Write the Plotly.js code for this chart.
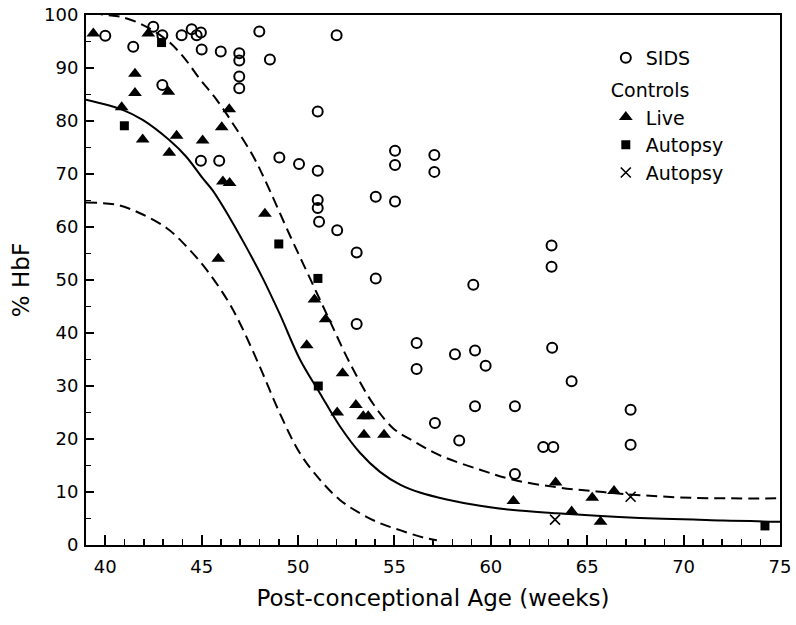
<!DOCTYPE html>
<html>
<head>
<meta charset="utf-8">
<script src="https://cdn.plot.ly/plotly-3.0.1.min.js"></script>
<style>html,body{margin:0;padding:0;background:#fff;}#chart{width:796px;height:625px;}</style>
</head>
<body>
<div id="chart"></div>
<script>
// SIDS (open circles)
const sidsX = [40.0, 41.45, 42.49, 42.96, 42.96, 43.96, 44.48, 44.74, 44.96, 45.0, 45.99, 46.95, 46.95, 46.95, 46.95, 47.99, 48.54, 52.0,
  44.96, 45.91, 49.03, 50.05, 51.02, 51.02, 51.02, 51.02, 51.09, 52.03, 53.04, 54.03, 54.03, 55.03, 55.03, 55.03, 53.04,
  57.07, 57.07, 63.15, 63.15, 59.09,
  56.15, 56.15, 58.14, 59.18, 59.73, 63.18, 64.19, 57.1, 58.36, 59.18, 61.25, 62.72, 63.24, 67.25, 67.25, 61.25];
const sidsY = [96.1, 94.0, 97.8, 96.2, 86.8, 96.2, 97.3, 96.2, 96.7, 93.5, 93.1, 92.8, 91.4, 88.4, 86.2, 96.9, 91.6, 96.2,
  72.5, 72.5, 73.1, 71.9, 70.6, 81.8, 65.1, 63.6, 61.0, 59.4, 55.2, 65.7, 50.3, 74.4, 71.7, 64.8, 41.7,
  73.6, 70.4, 56.5, 52.5, 49.1,
  38.1, 33.2, 36.0, 36.7, 33.8, 37.2, 30.9, 23.0, 19.7, 26.2, 26.2, 18.5, 18.5, 25.5, 18.9, 13.4];

// Controls - Live (filled triangles)
const liveX = [39.38, 41.54, 41.54, 42.23, 43.27, 40.85, 41.94, 43.32, 43.7, 45.05, 46.04, 46.43, 46.1, 46.45, 45.86, 48.28,
  50.85, 51.43, 50.45, 52.31, 52.03, 53.0, 53.38, 53.64, 53.42, 54.46,
  61.17, 63.36, 64.19, 65.26, 66.39, 65.69];
const liveY = [96.5, 88.9, 85.3, 96.5, 85.5, 82.6, 76.5, 74.0, 77.2, 76.3, 78.8, 82.2, 68.6, 68.3, 54.0, 62.5,
  46.3, 42.6, 37.7, 32.4, 25.0, 26.4, 24.3, 24.3, 20.8, 20.8,
  8.3, 11.8, 6.3, 8.9, 10.2, 4.4];

// Controls - Autopsy (filled squares)
const autopsySqX = [40.99, 42.92, 49.0, 51.03, 51.05, 74.22];
const autopsySqY = [79.1, 94.8, 56.8, 50.3, 30.0, 3.6];

// Controls - Autopsy (crosses)
const autopsyXX = [63.33, 67.25];
const autopsyXY = [4.8, 9.1];

// Mean curve (solid)
const meanX = [39.0, 40.9, 41.94, 43.32, 44.19, 45.05, 45.57, 46.43, 47.3, 48.16, 49.06, 50.10, 51.14, 52.17, 53.21, 54.25, 55.29, 56.32, 57.71, 59.44, 61.16, 63.41, 65.49, 67.73, 70.5, 72.05, 75.0];
const meanY = [84.0, 82.1, 80.2, 76.4, 73.3, 69.2, 66.9, 61.9, 56.3, 50.4, 43.5, 35.0, 28.6, 22.4, 17.4, 13.8, 11.4, 9.9, 8.6, 7.4, 6.6, 6.0, 5.5, 5.1, 4.8, 4.6, 4.4];

// Upper limit curve (dashed)
const upperX = [39.3, 40.07, 40.73, 41.8, 43.18, 44.05, 44.91, 45.78, 46.64, 47.68, 48.28, 49.58, 50.62, 51.66, 52.69, 53.9, 54.94, 55.98, 57.36, 59.44, 61.16, 63.41, 65.49, 67.73, 70.5, 74.8];
const upperY = [100.4, 100.0, 99.7, 98.4, 95.3, 92.1, 87.9, 84.0, 79.4, 73.3, 68.9, 58.4, 50.3, 42.2, 34.3, 26.6, 22.0, 19.6, 16.9, 14.2, 12.3, 10.9, 10.1, 9.4, 8.9, 8.8];

// Lower limit curve (dashed)
const lowerX = [39.0, 40.59, 41.8, 43.18, 44.22, 45.26, 46.3, 46.99, 48.02, 49.06, 50.10, 51.14, 52.17, 53.21, 54.25, 55.29, 56.5, 57.2];
const lowerY = [64.6, 64.2, 62.6, 59.8, 56.3, 51.9, 46.4, 41.8, 33.6, 24.8, 17.3, 12.3, 8.5, 6.0, 4.1, 2.8, 1.4, 0.9];

const xTicks = [40, 45, 50, 55, 60, 65, 70, 75];
const yTicks = [0, 10, 20, 30, 40, 50, 60, 70, 80, 90, 100];

const FONT = 'DejaVu Sans, Verdana, sans-serif';

const traces = [
  {x: meanX, y: meanY, mode: 'lines', line: {color: '#000', width: 2, shape: 'spline'}, showlegend: false, hoverinfo: 'skip'},
  {x: upperX, y: upperY, mode: 'lines', line: {color: '#000', width: 2, dash: '11px,6px', shape: 'spline'}, showlegend: false, hoverinfo: 'skip'},
  {x: lowerX, y: lowerY, mode: 'lines', line: {color: '#000', width: 2, dash: '11px,6px', shape: 'spline'}, showlegend: false, hoverinfo: 'skip'},
  {x: sidsX, y: sidsY, mode: 'markers', name: 'SIDS', legendgroup: 'sids',
   marker: {symbol: 'circle-open', size: 10, color: '#000', line: {width: 2, color: '#000'}}},
  {x: liveX, y: liveY, mode: 'markers', name: 'Live', legendgroup: 'controls',
   legendgrouptitle: {text: 'Controls', font: {size: 19, color: '#000', family: FONT}},
   marker: {symbol: 'triangle-up', size: 12, color: '#000'}},
  {x: autopsySqX, y: autopsySqY, mode: 'markers', name: 'Autopsy', legendgroup: 'controls',
   marker: {symbol: 'square', size: 9, color: '#000'}},
  {x: autopsyXX, y: autopsyXY, mode: 'markers', name: 'Autopsy', legendgroup: 'controls',
   marker: {symbol: 'x-thin-open', size: 10, color: '#000', line: {width: 1.6, color: '#000'}}}
];

const layout = {
  width: 796, height: 625,
  margin: {l: 86, r: 16, t: 15, b: 80},
  paper_bgcolor: '#fff', plot_bgcolor: '#fff',
  font: {family: FONT, color: '#000', size: 18},
  showlegend: true,
  legend: {x: 0.749, y: 0.955, xanchor: 'left', yanchor: 'top', bgcolor: 'rgba(0,0,0,0)',
           font: {size: 19, family: FONT, color: '#000'}, traceorder: 'grouped', tracegroupgap: 4, itemwidth: 30},
  xaxis: {
    range: [39, 75], tickvals: xTicks, ticktext: xTicks.map(String),
    ticks: 'inside', ticklen: 10, tickwidth: 2, tickcolor: '#000',
    minor: {dtick: 1, tick0: 40, ticks: 'inside', ticklen: 6, tickwidth: 1.5, tickcolor: '#000', showgrid: false},
    showline: true, linecolor: '#000', linewidth: 2, mirror: true,
    showgrid: false, zeroline: false, ticklabelstandoff: 4,
    tickfont: {size: 18, family: FONT, color: '#000'},
    title: {text: 'Post-conceptional Age (weeks)', font: {size: 23, family: FONT, color: '#000'}, standoff: 14}
  },
  yaxis: {
    range: [0, 100], tickvals: yTicks, ticktext: yTicks.map(String),
    ticks: 'inside', ticklen: 8, tickwidth: 2, tickcolor: '#000',
    minor: {dtick: 5, tick0: 0, ticks: 'inside', ticklen: 5, tickwidth: 1.5, tickcolor: '#000', showgrid: false},
    showline: true, linecolor: '#000', linewidth: 2, mirror: true,
    showgrid: false, zeroline: false, ticklabelstandoff: 2,
    tickfont: {size: 18, family: FONT, color: '#000'},
    title: {text: '% HbF', font: {size: 23, family: FONT, color: '#000'}, standoff: 8}
  }
};

Plotly.newPlot('chart', traces, layout, {displayModeBar: false, staticPlot: true});
</script>
</body>
</html>
